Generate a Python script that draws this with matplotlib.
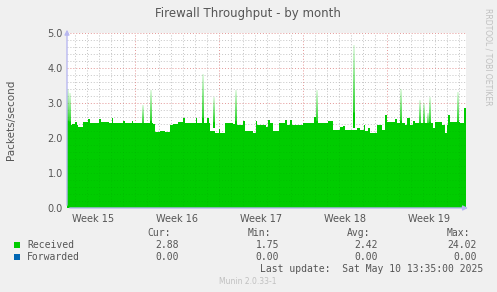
import matplotlib
matplotlib.use("Agg")
import matplotlib.pyplot as plt
import numpy as np

# Received packets/second, time in days from the left edge of the graph
recv_days = [0.00, 0.42, 0.67, 0.83, 0.92, 1.33, 1.75, 1.92, 2.67, 2.83, 3.50, 3.75, 3.83,
             4.67, 4.83, 5.42, 5.50, 6.50, 7.17, 7.33, 7.75, 8.17, 8.58, 8.83, 9.25, 9.67,
             9.83, 10.75, 10.83, 11.50, 11.67, 11.83, 11.92, 12.33, 12.67, 12.75, 13.17,
             13.83, 14.17, 14.67, 14.83, 15.50, 15.75, 15.83, 16.58, 16.75, 16.92, 17.17,
             17.67, 18.17, 18.33, 18.58, 18.75, 19.67, 20.58, 20.75, 21.08, 21.75, 22.17,
             22.75, 23.00, 23.17, 24.17, 24.42, 24.75, 24.83, 25.08, 25.25, 25.83, 26.25,
             26.50, 26.67, 27.33, 27.50, 28.17, 28.33, 28.58, 28.83, 29.00, 30.50, 30.67,
             31.25, 31.50, 31.67, 31.75, 31.92, 32.75, 33.08, 33.25]
recv_vals = [2.37, 2.40, 2.47, 2.36, 2.32, 2.47, 2.53, 2.42, 2.53, 2.45, 2.42, 2.57, 2.42,
             2.50, 2.42, 2.50, 2.42, 2.44, 2.40, 2.18, 2.20, 2.16, 2.37, 2.40, 2.45, 2.57,
             2.44, 2.57, 2.44, 2.42, 2.57, 2.42, 2.20, 2.15, 2.25, 2.15, 2.42,
             2.40, 2.37, 2.50, 2.20, 2.15, 2.50, 2.37, 2.32, 2.51, 2.42, 2.20,
             2.42, 2.51, 2.38, 2.51, 2.38, 2.44, 2.60, 2.44, 2.42, 2.50, 2.23,
             2.32, 2.33, 2.23, 2.28, 2.23, 2.37, 2.20, 2.30, 2.15, 2.37, 2.23,
             2.66, 2.47, 2.53, 2.42, 2.37, 2.57, 2.37, 2.50, 2.42, 2.28, 2.47,
             2.37, 2.15, 2.37, 2.66, 2.47, 2.42, 2.85, 2.85]

# short peaks (drawn faded at the top, as rrdtool renders them)
spike_days = [0.08, 0.25, 6.33, 7.00, 11.33, 12.25, 14.08, 20.83, 23.92, 27.83, 29.42,
              29.75, 30.08, 30.25, 32.58]
spike_vals = [3.40, 3.30, 2.94, 3.37, 3.83, 3.18, 3.37, 3.37, 4.66, 3.39, 3.09,
              2.99, 2.71, 3.18, 3.32]

forwarded_vals = [0.0] * len(recv_days)

week_labels = ["Week 15", "Week 16", "Week 17", "Week 18", "Week 19"]
week_starts = [-1.33, 5.67, 12.67, 19.67, 26.67]

stat_heads = ["Cur:", "Min:", "Avg:", "Max:"]
recv_stats = ["2.88", "1.75", "2.42", "24.02"]
fwd_stats = ["0.00", "0.00", "0.00", "0.00"]

GREEN = "#00CC00"
BLUE = "#0066B3"
BG = "#F0F0F0"
AXC = "#B8B8F0"

W, H = 497, 292
fig = plt.figure(figsize=(W / 100, H / 100), dpi=100, facecolor=BG)
ax = fig.add_axes([67 / W, (H - 208) / H, (466 - 67) / W, (208 - 33) / H])
ax.set_facecolor("white")

x_end = 399 / 12
ax.fill_between(recv_days, recv_vals, 0, step="post", color=GREEN, lw=0, zorder=2)

# faded spikes
for d, v in zip(spike_days, spike_vals):
    n = 64
    img = np.zeros((n, 1, 4))
    img[..., :3] = matplotlib.colors.to_rgb(GREEN)
    a = np.linspace(1.0, 0.12, n)
    a[: n // 5] = 1.0
    img[:, 0, 3] = a
    ax.imshow(img, extent=(d - 0.08, d + 0.08, 2.3, v), origin="lower",
              aspect="auto", interpolation="bilinear", zorder=2)

ax.plot(recv_days, forwarded_vals, color=BLUE, lw=0.8, zorder=3)

ax.set_xlim(0, x_end)
ax.set_ylim(0, 5)

# grid: days (minor) / weeks (major), 0.2 (minor) / 1.0 (major)
days = np.arange(week_starts[1] - 5, x_end, 1.0)
for d in days:
    major = any(abs(d - w) < 0.01 for w in week_starts)
    ax.axvline(d, color="#F0A0A0" if major else "#D0D0D0", lw=0.7,
               ls=(0, (1, 2)), zorder=1 if not major else 1.5)
    ax.axvline(d, color="black", alpha=0.05, lw=0.7, ls=(0, (1, 2)), zorder=2.5)
for y in np.arange(0.2, 5.01, 0.2):
    major = abs(y - round(y)) < 0.01
    ax.axhline(y, color="#F0A0A0" if major else "#D0D0D0", lw=0.7,
               ls=(0, (1, 2)), zorder=1 if not major else 1.5)
    ax.axhline(y, color="black", alpha=0.05, lw=0.7, ls=(0, (1, 2)), zorder=2.5)

for s in ax.spines.values():
    s.set_visible(False)
ax.set_xticks([w + 3.5 for w in week_starts])
ax.set_xticklabels(week_labels)
ax.set_yticks(np.arange(0, 5.01, 1.0))
ax.set_yticklabels([f"{v:.1f}" for v in np.arange(0, 5.01, 1.0)])
ax.tick_params(axis="both", length=0, labelsize=7, colors="#555555", pad=3)
ax.tick_params(axis="x", pad=4)

# axes with arrows
ax.annotate("", xy=(1.012, 0), xytext=(0, 0), xycoords="axes fraction",
            arrowprops=dict(arrowstyle="-|>", color=AXC, lw=1, mutation_scale=7),
            annotation_clip=False, zorder=5)
ax.annotate("", xy=(0, 1.035), xytext=(0, 0), xycoords="axes fraction",
            arrowprops=dict(arrowstyle="-|>", color=AXC, lw=1, mutation_scale=7),
            annotation_clip=False, zorder=5)

fig.text(248 / W, 1 - 13 / H, "Firewall Throughput - by month", ha="center", va="center",
         fontsize=8.5, color="#555555")
fig.text(11 / W, 1 - 120 / H, "Packets/second", rotation=90, ha="center", va="center",
         fontsize=7.5, color="#555555")
fig.text(488 / W, 1 - 57 / H, "RRDTOOL / TOBI OETIKER", rotation=270, ha="center",
         va="center", fontsize=5.5, color="#C0C0C0")

mono = "DejaVu Sans Mono"
fs = 7
tc = "#555555"
heads_x = [171, 271, 370, 470]
vals_x = [179, 279, 378, 477]
for hx, h in zip(heads_x, stat_heads):
    fig.text(hx / W, 1 - 233 / H, h, ha="right", va="center", family=mono, fontsize=fs, color=tc)
for row_y, name, col, stats in [(245, "Received", GREEN, recv_stats),
                                (257, "Forwarded", BLUE, fwd_stats)]:
    fig.patches.append(matplotlib.patches.Rectangle(((14) / W, 1 - (row_y + 3) / H),
                                                    6 / W, 6 / H, transform=fig.transFigure,
                                                    facecolor=col, edgecolor="none"))
    fig.text(27 / W, 1 - row_y / H, name, ha="left", va="center", family=mono,
             fontsize=fs, color=tc)
    for vx, v in zip(vals_x, stats):
        fig.text(vx / W, 1 - row_y / H, v, ha="right", va="center", family=mono,
                 fontsize=fs, color=tc)
fig.text(483 / W, 1 - 269 / H, "Last update:  Sat May 10 13:35:00 2025", ha="right",
         va="center", family=mono, fontsize=fs, color=tc)
fig.text(248 / W, 1 - 281 / H, "Munin 2.0.33-1", ha="center", va="center",
         fontsize=5.5, color="#C0C0C0")

fig.savefig("out.png", dpi=100, facecolor=BG)
